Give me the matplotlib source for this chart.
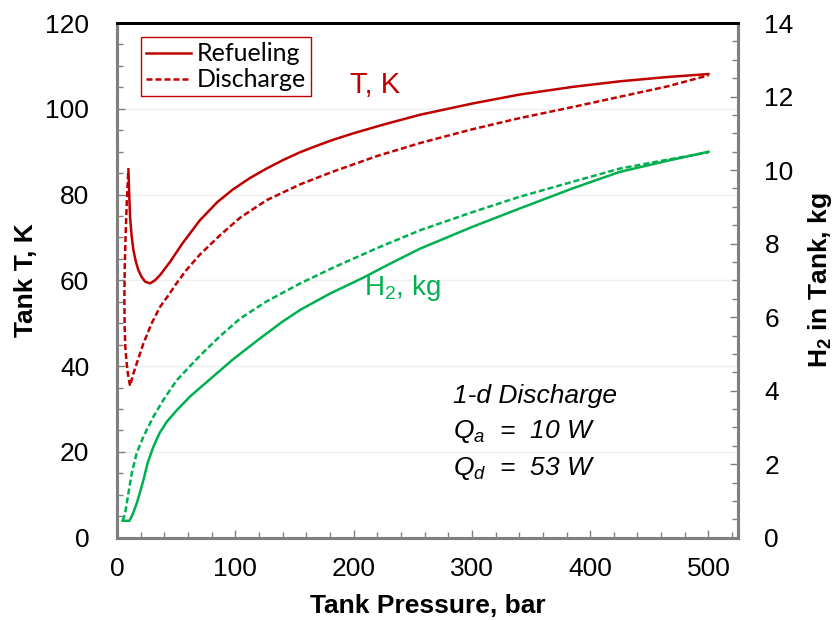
import numpy as np
import matplotlib
matplotlib.use('Agg')
import matplotlib.pyplot as plt
from matplotlib.ticker import MultipleLocator

# tank temperature, refueling (solid) and discharge (dashed)
p_T_refuel = [9.6, 10.3, 11.0, 12.3, 13.8, 15.8, 18.0, 20.8, 23.7, 27.9, 32.0, 36.3, 44.8,
              55.0, 70.0, 85.0, 98.0, 112.0, 126.0, 140.0, 155.0, 170.0, 183.0, 200.0,
              225.0, 256.0, 300.0, 340.0, 385.0, 425.0, 465.0, 500.0]
T_refuel = [85.9, 80.0, 74.8, 70.5, 67.1, 64.5, 62.4, 60.8, 59.7, 59.3, 60.0, 61.2, 64.3,
            68.5, 74.0, 78.3, 81.2, 83.8, 86.0, 88.0, 89.9, 91.5, 92.8, 94.3,
            96.3, 98.6, 101.2, 103.3, 105.1, 106.4, 107.4, 108.1]

p_T_dis = [9.4, 8.2, 7.2, 6.5, 6.2, 6.4, 7.0, 8.0, 9.3, 11.0, 13.5, 16.6, 22.3, 29.3, 36.3,
           43.4, 50.0, 58.0, 70.0, 87.0, 104.0, 126.5, 155.0, 183.0, 220.0, 256.0, 300.0,
           340.0, 385.0, 425.0, 465.0, 500.0]
T_dis = [85.0, 78.0, 70.0, 63.0, 56.0, 49.5, 44.5, 41.0, 38.0, 35.4, 38.0, 40.6, 45.3, 50.0,
         53.8, 56.5, 59.2, 62.2, 66.0, 70.5, 74.6, 78.7, 82.4, 85.4, 89.0, 92.0, 95.2,
         97.8, 100.4, 102.8, 105.2, 107.8]

# hydrogen mass in tank, kg
p_m_refuel = [4.8, 10.4, 13.0, 16.6, 20.0, 22.3, 26.0, 30.7, 36.0, 42.0, 50.0, 62.0, 80.0,
              98.0, 120.0, 140.0, 155.0, 180.0, 208.0, 230.0, 256.0, 300.0, 340.0, 385.0,
              425.0, 465.0, 500.0]
m_refuel = [0.46, 0.46, 0.62, 0.93, 1.30, 1.57, 2.05, 2.47, 2.85, 3.15, 3.45, 3.85, 4.35,
            4.85, 5.40, 5.88, 6.20, 6.64, 7.07, 7.44, 7.86, 8.45, 8.95, 9.50, 9.95, 10.25, 10.50]

p_m_dis = [4.8, 6.8, 9.6, 12.4, 16.6, 22.3, 30.7, 39.0, 50.4, 70.0, 87.0, 104.0, 126.0,
           155.0, 183.0, 220.0, 256.0, 300.0, 340.0, 385.0, 425.0, 465.0, 500.0]
m_dis = [0.46, 0.66, 1.21, 1.75, 2.30, 2.75, 3.29, 3.74, 4.28, 4.95, 5.48, 5.96, 6.42,
         6.92, 7.35, 7.88, 8.36, 8.85, 9.27, 9.68, 10.04, 10.28, 10.48]

RED = '#C00000'
GREEN = '#00B050'
SPINE = '#7f7f7f'


def styleAxis(ax, pad):
    for side in ['left', 'bottom', 'right']:
        ax.spines[side].set_color(SPINE)
        ax.spines[side].set_linewidth(2.2)
    ax.spines['top'].set_color('black')
    ax.spines['top'].set_linewidth(2.0)
    ax.tick_params(which='both', direction='in', color=SPINE, width=1.0, labelsize=19)
    ax.tick_params(axis='y', pad=pad)
    ax.tick_params(axis='x', pad=14)
    ax.tick_params(which='major', length=6)
    ax.tick_params(which='minor', length=4.5)


def main():
    plt.rcParams['font.family'] = ['Liberation Sans', 'DejaVu Sans']
    plt.rcParams['mathtext.fontset'] = 'custom'
    plt.rcParams['mathtext.rm'] = 'Liberation Sans'
    plt.rcParams['mathtext.it'] = 'Liberation Sans:italic'
    plt.rcParams['mathtext.bf'] = 'Liberation Sans:bold'

    fig = plt.figure(figsize=(8.36, 6.2), dpi=100)
    ax = fig.add_axes([0.14, 0.1327, 0.7428, 0.8302])
    ax2 = ax.twinx()

    dash = (2.4, 1.2)
    ax.plot(p_T_refuel, T_refuel, color=RED, lw=1.8, label='Refueling', zorder=3)
    ax.plot(p_T_dis, T_dis, color=RED, lw=1.8, ls=(0, dash), label='Discharge', zorder=3)
    ax2.plot(p_m_refuel, m_refuel, color=GREEN, lw=1.8, zorder=3)
    ax2.plot(p_m_dis, m_dis, color=GREEN, lw=1.8, ls=(0, dash), zorder=3)

    ax.set_xlim(0, 525)
    ax.set_ylim(0, 120)
    ax2.set_ylim(0, 14)
    ax.xaxis.set_major_locator(MultipleLocator(100))
    ax.xaxis.set_minor_locator(MultipleLocator(20))
    ax.yaxis.set_major_locator(MultipleLocator(20))
    ax.yaxis.set_minor_locator(MultipleLocator(5))
    ax2.yaxis.set_major_locator(MultipleLocator(2))
    ax2.yaxis.set_minor_locator(MultipleLocator(0.5))
    ax.grid(axis='y', which='major', color='#efefef', lw=1.0, zorder=0)
    ax.set_axisbelow(True)

    styleAxis(ax, 20)
    styleAxis(ax2, 19)

    ax.set_xlabel('Tank Pressure, bar', fontsize=19, fontweight='bold', labelpad=9)
    ax.set_ylabel('Tank T, K', fontsize=19, fontweight='bold', labelpad=5)
    ax2.set_ylabel(r'H$_\mathbf{2}$ in Tank, kg', fontsize=19, fontweight='bold', labelpad=9)

    leg = ax.legend(loc='upper left', bbox_to_anchor=(0.038, 0.972), fancybox=False,
                    edgecolor=RED, framealpha=1, handlelength=1.8, handletextpad=0.25,
                    borderpad=0.2, labelspacing=0.12, borderaxespad=0,
                    prop={'family': 'Lato', 'size': 18})
    leg.get_frame().set_linewidth(1.0)

    ax.text(197, 105.5, 'T, K', color=RED, fontsize=21, va='center')
    ax2.text(209, 6.79, r'H$_2$, kg', color=GREEN, fontsize=20, va='center')

    ax.text(284, 31.3, '1-d Discharge', fontsize=19, style='italic', va='baseline')
    ax.text(284, 23.2, r'Q$_a$  =  10 W', fontsize=19, style='italic', va='baseline')
    ax.text(284, 14.6, r'Q$_d$  =  53 W', fontsize=19, style='italic', va='baseline')

    fig.savefig('out.png', dpi=100)
    plt.close(fig)


if __name__ == '__main__':
    main()
